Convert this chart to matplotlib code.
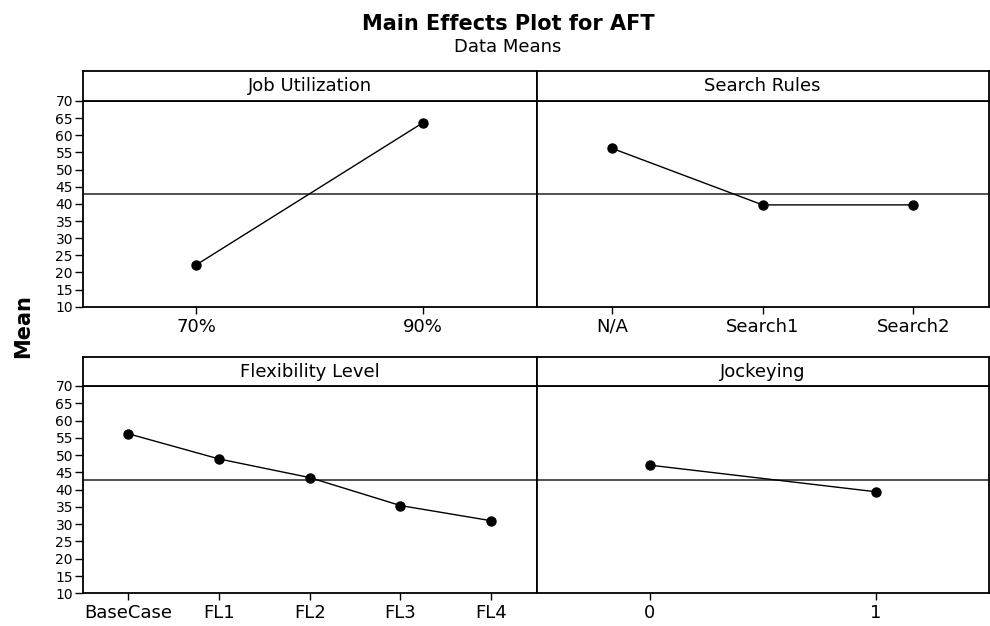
import matplotlib
matplotlib.use('Agg')
import matplotlib.pyplot as plt

# Level means for each factor
job_levels = ['70%', '90%']
job_means = [22.2, 63.7]

search_levels = ['N/A', 'Search1', 'Search2']
search_means = [56.2, 39.7, 39.7]

flex_levels = ['BaseCase', 'FL1', 'FL2', 'FL3', 'FL4']
flex_means = [56.2, 48.9, 43.5, 35.4, 31.0]

jockey_levels = ['0', '1']
jockey_means = [47.1, 39.4]

grand_mean = 42.9
y_ticks = list(range(10, 75, 5))

plt.rcParams['font.family'] = 'DejaVu Sans'

fig = plt.figure(figsize=(9.9, 6.26), dpi=100)

# panel geometry (figure fractions)
left, mid, right = 0.0835, 0.5421, 0.9985
rows = [(0.510, 0.8387, 0.887), (0.0522, 0.3834, 0.4292)]

panels = [
    ('Job Utilization', job_levels, job_means, 0, 0),
    ('Search Rules', search_levels, search_means, 0, 1),
    ('Flexibility Level', flex_levels, flex_means, 1, 0),
    ('Jockeying', jockey_levels, jockey_means, 1, 1),
]

for title, levels, means, r, c in panels:
    bot, top, strip_top = rows[r]
    x0 = left if c == 0 else mid
    x1 = mid if c == 0 else right
    ax = fig.add_axes([x0, bot, x1 - x0, top - bot])
    xs = list(range(1, len(levels) + 1))
    ax.axhline(grand_mean, color='#222222', lw=1.1, zorder=1)
    ax.plot(xs, means, color='black', lw=1.0, marker='o', markersize=6.5, zorder=3)
    ax.set_xlim(0.5, len(levels) + 0.5)
    ax.set_ylim(10, 70)
    ax.set_xticks(xs)
    ax.set_xticklabels(levels, fontsize=13)
    ax.set_yticks(y_ticks)
    if c == 0:
        ax.set_yticklabels([str(v) for v in y_ticks], fontsize=10)
    else:
        ax.tick_params(axis='y', left=False, labelleft=False)
    ax.tick_params(axis='x', direction='out', length=5, width=1.0, pad=3)
    ax.tick_params(axis='y', direction='out', length=6, width=1.0, pad=1)
    for sp in ax.spines.values():
        sp.set_linewidth(1.3)

    # strip header above each panel
    sax = fig.add_axes([x0, top, x1 - x0, strip_top - top])
    sax.set_xticks([])
    sax.set_yticks([])
    for sp in sax.spines.values():
        sp.set_linewidth(1.3)
    sax.text(0.5, 0.5, title, ha='center', va='center', fontsize=13,
             transform=sax.transAxes)

fig.text(0.513, 1 - 23.5 / 626, 'Main Effects Plot for AFT', ha='center',
         va='center', fontsize=15, fontweight='bold')
fig.text(0.513, 1 - 47 / 626, 'Data Means', ha='center', va='center', fontsize=13)
fig.text(0.023, 1 - 326 / 626, 'Mean', ha='center', va='center', rotation=90,
         fontsize=15, fontweight='bold')

fig.savefig('out.png', dpi=100, facecolor='white')
